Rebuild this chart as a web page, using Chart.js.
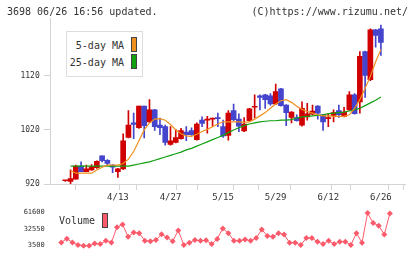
<!DOCTYPE html>
<html>
<head>
<meta charset="utf-8">
<script src="https://cdn.jsdelivr.net/npm/chart.js@4.4.1/dist/chart.umd.min.js"></script>
<style>
  body { margin: 0; background: #fff; }
  #wrap { position: relative; width: 420px; height: 259px; overflow: hidden; font-family: "DejaVu Sans Mono", monospace; color: #333; }
  canvas { position: absolute; left: 0; }
  #priceChart { top: 0; }
  #volumeChart { top: 195px; }
  .txt { position: absolute; font-size: 10px; line-height: 12px; white-space: nowrap; }
  .box { position: absolute; box-sizing: border-box; border: 1px solid #ddd; background: #fff; }
  .sw { position: absolute; box-sizing: border-box; border: 1px solid #444; width: 6px; height: 15px; }
</style>
</head>
<body>
<div id="wrap">
  <canvas id="priceChart" width="420" height="206"></canvas>
  <canvas id="volumeChart" width="420" height="64"></canvas>

  <div class="txt" style="left:7px; top:6px;">3698 06/26 16:56 updated.</div>
  <div class="txt" style="right:12px; top:6px;">(C)https://www.rizumu.net/</div>

  <div class="box" style="left:66px; top:31px; width:77px; height:46px;"></div>
  <div class="txt" style="right:296px; top:40px;">5-day MA</div>
  <div class="sw" style="left:131px; top:37px; background:#f0901e;"></div>
  <div class="txt" style="right:296px; top:57px;">25-day MA</div>
  <div class="sw" style="left:131px; top:54px; background:#10a010;"></div>

  <div class="txt" style="left:59px; top:215px;">Volume</div>
  <div class="sw" style="left:102px; top:213px; background:#fa5a6a;"></div>
</div>

<script>
// daily candles, index 0..60 (6/26 is the last one)
const opens  = [926, 925, 929, 953, 943, 946, 950, 972, 964, 955,
                943, 948, 1006, 1033, 1024, 1064, 1035, 1057, 1029, 1026,
                993, 997, 1004, 1016, 1019, 1002, 1038, 1038, 1040, 1042,
                1026, 1010, 1056, 1040, 1018, 1037, 1062, 1083, 1085, 1083,
                1068, 1096, 1066, 1043, 1043, 1029, 1044, 1049, 1064, 1048,
                1041, 1047, 1056, 1045, 1057, 1085, 1072, 1165, 1113, 1205, 1207];
const highs  = [927, 946, 955, 961, 955, 956, 963, 972, 965, 956,
                949, 1013, 1056, 1051, 1064, 1064, 1076, 1058, 1042, 1029,
                1026, 1021, 1023, 1026, 1024, 1033, 1044, 1045, 1042, 1051,
                1038, 1056, 1068, 1050, 1043, 1060, 1085, 1085, 1086, 1087,
                1105, 1097, 1067, 1054, 1048, 1072, 1069, 1066, 1065, 1049,
                1050, 1057, 1066, 1062, 1091, 1087, 1165, 1166, 1207, 1206, 1214];
const lows   = [925, 920, 929, 943, 943, 945, 949, 961, 955, 941,
                932, 947, 1005, 1004, 1023, 1005, 1034, 1019, 1011, 992,
                992, 996, 1003, 1000, 1010, 1001, 1026, 1014, 1027, 1026,
                1006, 1001, 1037, 1017, 1017, 1036, 1042, 1057, 1060, 1066,
                1067, 1064, 1028, 1033, 1036, 1027, 1038, 1048, 1040, 1019,
                1026, 1035, 1043, 1044, 1056, 1049, 1051, 1080, 1111, 1173, 1158];
const closes = [926, 930, 953, 943, 948, 952, 962, 963, 958, 951,
                948, 1000, 1029, 1030, 1064, 1028, 1057, 1026, 1024, 997,
                1000, 1006, 1019, 1011, 1011, 1031, 1032, 1039, 1041, 1041,
                1009, 1051, 1039, 1027, 1031, 1059, 1063, 1080, 1076, 1068,
                1091, 1065, 1052, 1053, 1037, 1060, 1050, 1055, 1051, 1035,
                1042, 1052, 1048, 1053, 1085, 1050, 1156, 1121, 1205, 1195, 1182];

const ma5  = [null, 945, 940, 940, 940, 940, 946, 951, 955, 955,
              955, 958, 966, 980, 1000, 1020, 1033, 1040, 1041, 1038,
              1030, 1020, 1013, 1009, 1008, 1012, 1017, 1021, 1026, 1031,
              1035, 1035, 1035, 1035, 1034, 1035, 1040, 1046, 1052, 1060,
              1068, 1074, 1076, 1071, 1064, 1058, 1054, 1051, 1048, 1046,
              1046, 1045, 1045, 1045, 1048, 1060, 1076, 1097, 1119, 1146, 1169];
const ma25 = [null, 953, 953, 953, 953, 953, 953, 953, 953, 953,
              953, 953, 953, 955, 957, 959, 961, 964, 967, 970,
              973, 976, 979, 983, 986, 990, 994, 998, 1002, 1006,
              1010, 1015, 1020, 1024, 1028, 1031, 1033, 1035, 1036, 1037,
              1037, 1038, 1038, 1039, 1042, 1044, 1045, 1046, 1047, 1048,
              1050, 1051, 1052, 1053, 1055, 1057, 1060, 1065, 1070, 1075, 1081];

const volume = [null, 7930, 14820, 7930, 3500, 2020, 2020, 5960, 4980, 10890,
                7930, 35500, 40430, 18270, 25660, 24670, 10890, 9900, 12360, 22700,
                16790, 9900, 29600, 3500, 7440, 12360, 10890, 11870, 4980, 14330,
                33040, 24670, 10890, 10890, 13350, 10890, 15810, 31070, 19750, 18270,
                24670, 22210, 7440, 7440, 3500, 15810, 15810, 9410, 4980, 10890,
                4980, 9410, 9410, 3500, 24670, 7440, 61100, 42890, 37970, 22210, 60130];

const dateIdx = [10, 20, 30, 40, 50, 60];
const dateLabels = ["4/13", "4/27", "5/15", "5/29", "6/12", "6/26"];
const priceTicks = [920, 1020, 1120];
const volumeTicks = [3500, 32550, 61600];

const upColor = "#d00000";
const downColor = "#4444cc";
const axisColor = "#d4d4d4";
const monoFont = "'DejaVu Sans Mono', monospace";

const xMin = -0.9, xMax = 62.84;
// tick marks under the x axis: 12 evenly spaced
const gridVals = [];
for (let k = 0; k <= 11; k++) gridVals.push(xMin + k * (xMax - xMin) / 11);

const candleColor = c => closes[c.dataIndex] >= opens[c.dataIndex] ? upColor : downColor;
const toPoints = arr => arr.map((v, i) => ({ x: i, y: v })).filter(p => p.y !== null);

new Chart(document.getElementById("priceChart"), {
  type: "bar",
  data: {
    datasets: [
      {
        type: "line",
        label: "5-day MA",
        data: toPoints(ma5),
        borderColor: "#f0901e",
        borderWidth: 1.2,
        pointRadius: 0,
        order: 0
      },
      {
        type: "line",
        label: "25-day MA",
        data: toPoints(ma25),
        borderColor: "#10a010",
        borderWidth: 1.2,
        pointRadius: 0,
        order: 0
      },
      {
        label: "body",
        data: opens.map((o, i) => ({ x: i, y: [o, closes[i]] })),
        backgroundColor: candleColor,
        barThickness: 5,
        minBarLength: 1,
        grouped: false,
        order: 1
      },
      {
        label: "wick",
        data: lows.map((l, i) => ({ x: i, y: [l, highs[i]] })),
        backgroundColor: candleColor,
        barThickness: 1,
        grouped: false,
        order: 2
      }
    ]
  },
  options: {
    responsive: false,
    animation: false,
    devicePixelRatio: 1,
    layout: { padding: { top: 18, right: 14.3, left: 0, bottom: 0 } },
    plugins: { legend: { display: false }, tooltip: { enabled: false } },
    scales: {
      x: {
        type: "linear",
        min: xMin,
        max: xMax,
        afterBuildTicks: s => {
          s.ticks = gridVals.concat(dateIdx).sort((a, b) => a - b).map(v => ({ value: v }));
        },
        afterFit: s => { s.height = 22; },
        grid: {
          drawOnChartArea: false,
          tickLength: 6,
          color: c => (c.tick && dateIdx.includes(c.tick.value)) ? "rgba(0,0,0,0)" : axisColor
        },
        border: { color: axisColor },
        ticks: {
          autoSkip: false,
          maxRotation: 0,
          padding: 2,
          color: "#333",
          font: { family: monoFont, size: 9 },
          callback: v => {
            const k = dateIdx.indexOf(v);
            return k >= 0 ? dateLabels[k] : "";
          }
        }
      },
      y: {
        min: 920,
        max: 1227,
        afterBuildTicks: s => { s.ticks = priceTicks.map(v => ({ value: v })); },
        afterFit: s => { s.width = 50.7; },
        grid: { drawOnChartArea: false, tickLength: 7, color: axisColor },
        border: { color: axisColor },
        ticks: { padding: 4, color: "#333", font: { family: monoFont, size: 8 }, callback: v => String(v) }
      }
    }
  }
});

new Chart(document.getElementById("volumeChart"), {
  type: "line",
  data: {
    datasets: [{
      label: "Volume",
      data: toPoints(volume),
      borderColor: "#fa5a6a",
      backgroundColor: "#fa5a6a",
      borderWidth: 1,
      pointStyle: "rectRot",
      pointRadius: 3,
      pointBorderWidth: 0
    }]
  },
  options: {
    responsive: false,
    animation: false,
    devicePixelRatio: 1,
    layout: { padding: { top: 5, right: 14.3, left: 0, bottom: 6 } },
    plugins: { legend: { display: false }, tooltip: { enabled: false } },
    scales: {
      x: { type: "linear", min: xMin, max: xMax, display: false },
      y: {
        min: -3450,
        max: 74900,
        afterBuildTicks: s => { s.ticks = volumeTicks.map(v => ({ value: v })); },
        afterFit: s => { s.width = 50.7; },
        grid: { display: false, drawTicks: false },
        border: { display: false },
        ticks: { padding: 6, color: "#333", font: { family: monoFont, size: 7 }, callback: v => String(v) }
      }
    }
  }
});
</script>
</body>
</html>
